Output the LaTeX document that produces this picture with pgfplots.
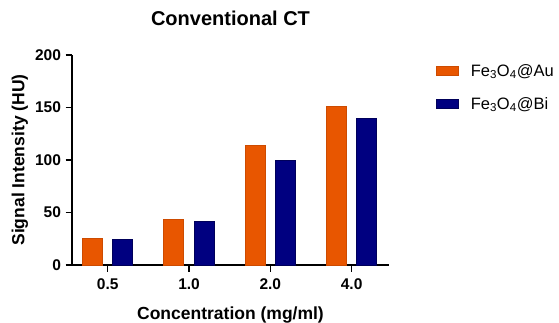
\documentclass[border=0pt]{standalone}
\usepackage{pgfplots}
\pgfplotsset{compat=1.18}
\usepackage{fontspec}
\setmainfont{Liberation Sans}
\definecolor{cOr}{RGB}{232,86,0}
\definecolor{cOrE}{RGB}{205,75,0}
\definecolor{cBl}{RGB}{0,0,128}
\definecolor{cBlE}{RGB}{0,0,90}
\begin{document}
\begin{tikzpicture}
\path[use as bounding box] (0,0) rectangle (559pt,322pt);
\begin{axis}[
  at={(72pt,57pt)}, anchor=south west,
  scale only axis, width=317pt, height=210pt,
  xmin=-0.44, xmax=3.46, ymin=0, ymax=200,
  axis x line*=bottom, axis y line*=left,
  axis line style={line width=1.3pt, black},
  every tick/.style={line width=1.3pt, black},
  tick align=outside, major tick length=6.5pt,
  xtick={0,1,2,3}, xticklabels={0.5,1.0,2.0,4.0},
  ytick={0,50,100,150,200}, yticklabels={0,50,100,150,200},
  ticklabel style={font=\bfseries\fontsize{15.5}{17}\selectfont},
  xticklabel style={yshift=-4pt},
  yticklabel style={xshift=-1pt},
  title={Conventional CT},
  title style={font=\bfseries\fontsize{20}{22}\selectfont, at={(0.5,1)}, anchor=center, yshift=31pt},
  xlabel={Concentration (mg/ml)},
  xlabel style={font=\bfseries\fontsize{17.5}{19}\selectfont, at={(0.5,0)}, anchor=center, yshift=-50pt},
  ylabel={Signal Intensity (HU)},
  ylabel style={font=\bfseries\fontsize{17.5}{19}\selectfont, at={(0,0.5)}, anchor=center, yshift=52pt},
  ybar, bar width=20pt,
  legend style={at={(1.148,0.957)}, anchor=north west, draw=none, fill=none,
    font=\fontsize{16.5}{18}\selectfont, row sep=19.5pt, inner sep=0pt,
    nodes={inner sep=0pt}, column sep=0pt},
  legend cell align=left,
  legend image code/.code={\draw[#1, line width=1pt] (0.5pt,-4.5pt) rectangle (22.5pt,4.5pt); \path[draw=none, fill=none] (0pt,0pt) -- (34.7pt,0pt);},
]
\addplot[fill=cOr, draw=cOrE, line width=1pt, bar shift=-15.2pt] coordinates {(0,25.5) (1,43.5) (2,114) (3,151)};
\addplot[fill=cBl, draw=cBlE, line width=1pt, bar shift=15.2pt] coordinates {(0,24.5) (1,41.5) (2,99.5) (3,140)};
\legend{Fe\textsubscript{3}O\textsubscript{4}@Au, Fe\textsubscript{3}O\textsubscript{4}@Bi}
\end{axis}
\end{tikzpicture}
\end{document}
